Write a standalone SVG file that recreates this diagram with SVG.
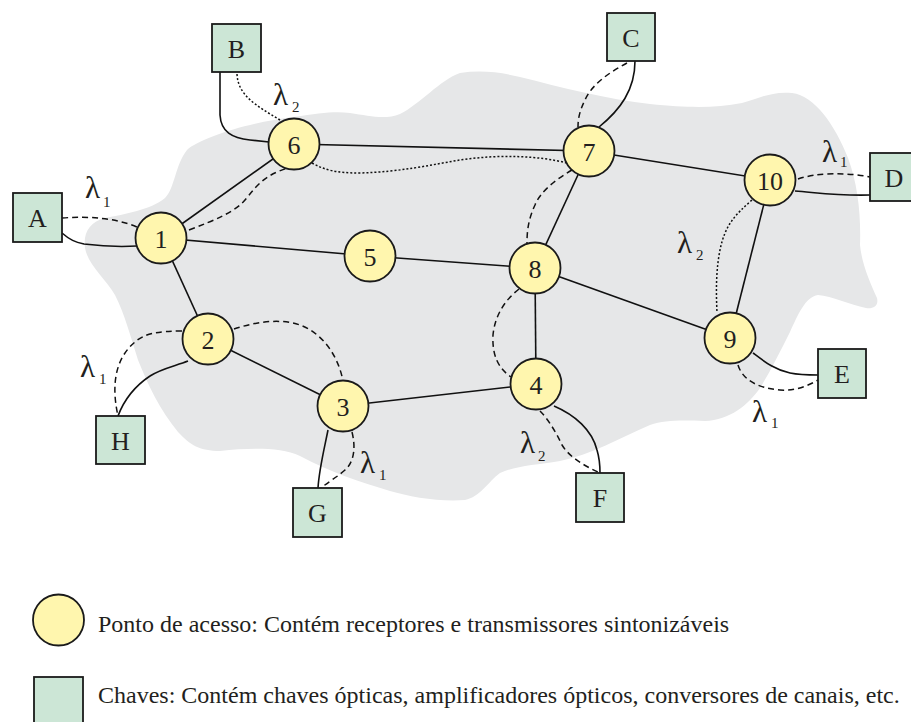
<svg xmlns="http://www.w3.org/2000/svg" width="911" height="722" viewBox="0 0 911 722">
  <style>
    .bg { fill: #ffffff; }
    .cloud { fill: #e6e7e8; stroke: none; }
    .node circle { fill: #fff6ae; stroke: #1a1a1a; stroke-width: 1.8; }
    .sw rect { fill: #cce6d6; stroke: #1a1a1a; stroke-width: 1.8; }
    .txt text, text.legend { fill: #231f20; }
    .lbl { font-size: 26px; text-anchor: middle; }
    .lam { font-size: 31px; }
    .sub { font-size: 15px; }
    .legend { font-size: 24px; }
    .link { fill: none; stroke: #111; stroke-width: 1.6; }
    .dash { fill: none; stroke: #111; stroke-width: 1.5; stroke-dasharray: 6 4; }
    .dot { fill: none; stroke: #111; stroke-width: 1.5; stroke-dasharray: 2 2; }
  </style>

  <rect class="bg" x="0" y="0" width="911" height="722"/>

  <!-- network cloud -->
  <path class="cloud" d="M187,150 C200,138 250,122 294,117 C320,113 335,111 350,113 C370,116 385,120 400,114
    C420,104 440,80 460,73 C480,70 500,72 520,77 C560,87 610,100 650,104 C690,108 715,108 742,103
    C760,98 772,91 792,93 C815,96 835,125 848,158 C858,185 861,215 860,245 C862,265 870,282 877,298
    C879,306 873,309 866,308 C850,305 832,296 818,295 C805,297 798,315 790,332 C780,352 770,372 760,388
    C748,405 730,420 705,421 C680,420 665,420 650,425 C620,438 590,455 560,461 C535,465 515,466 500,473
    C488,482 480,497 465,500 C440,502 410,497 390,491 C360,482 330,472 300,456 C280,447 250,448 220,451
    C200,451 190,445 178,432 C160,410 148,385 138,360 C130,335 125,315 115,295 C105,278 88,265 85,248
    C83,232 90,222 105,218 C125,214 150,210 165,198 C175,188 175,165 187,150 Z"/>

  <!-- connectors -->
  <g id="connectors">
    <!-- straight fibre links -->
    <line class="link" x1="162" y1="238" x2="294" y2="144"/>
    <line class="link" x1="162" y1="238" x2="370" y2="256"/>
    <line class="link" x1="162" y1="238" x2="208" y2="339"/>
    <line class="link" x1="294" y1="144" x2="589" y2="151"/>
    <line class="link" x1="589" y1="151" x2="770" y2="180"/>
    <line class="link" x1="589" y1="151" x2="535" y2="268"/>
    <line class="link" x1="370" y1="256" x2="535" y2="268"/>
    <line class="link" x1="535" y1="268" x2="730" y2="338"/>
    <line class="link" x1="535" y1="268" x2="536" y2="384"/>
    <line class="link" x1="770" y1="180" x2="730" y2="338"/>
    <line class="link" x1="208" y1="339" x2="343" y2="406"/>
    <line class="link" x1="343" y1="406" x2="536" y2="384"/>

    <!-- access links to switches -->
    <path class="link" d="M62,233 C70,240 75,242 84,244 C100,246 120,247 137,246"/>
    <path class="link" d="M220,72 L220,115 C221,132 232,138 250,140 L269,142"/>
    <path class="link" d="M635,61 C635,90 620,110 599,127"/>
    <path class="link" d="M795,191 C820,193 840,196 870,195"/>
    <path class="link" d="M753,353 C765,362 775,370 790,373 C800,375 810,375 818,375"/>
    <path class="link" d="M554,406 C575,415 592,430 597,450 C600,460 600,466 600,473"/>
    <path class="link" d="M328,430 C324,450 319,470 318,488"/>
    <path class="link" d="M188,361 C175,366 160,369 150,376 C135,386 124,400 118,416"/>

    <!-- lightpaths on λ1 (dashed) -->
    <path class="dash" d="M62,218 C90,216 115,218 137,227"/>
    <path class="dash" d="M189,230 C215,220 235,212 245,200 C258,184 265,175 288,168"/>
    <path class="dash" d="M627,63 C610,72 592,84 585,100 C580,110 578,118 578,127"/>
    <path class="dash" d="M572,170 C555,180 540,192 535,205 C528,220 527,232 527,243"/>
    <path class="dash" d="M798,179 C815,173 845,172 870,177"/>
    <path class="dash" d="M738,365 C742,378 755,388 780,390 C795,391 808,386 818,380"/>
    <path class="dash" d="M182,331 C160,331 145,333 135,342 C118,356 110,380 118,416"/>
    <path class="dash" d="M234,329 C255,322 280,318 300,325 C322,333 338,355 343,381"/>
    <path class="dash" d="M352,432 C356,448 354,462 345,470 C336,478 328,482 321,488"/>
    <path class="dash" d="M540,411 C547,418 555,430 562,445 C570,458 585,466 600,473"/>
    <path class="dash" d="M519,289 C505,300 495,315 493,335 C492,355 498,368 511,377"/>

    <!-- lightpaths on λ2 (dotted) -->
    <path class="dot" d="M237,74 C238,95 255,105 280,120"/>
    <path class="dot" d="M312,163 C325,170 335,173 360,173 C400,172 430,165 460,160 C500,154 540,156 567,163"/>
    <path class="dot" d="M752,200 C735,215 725,225 720,250 C716,270 716,290 717,313"/>
  </g>

  <g class="txt" font-family="'Liberation Serif', 'DejaVu Serif', 'Noto Serif', serif">
    <!-- wavelength labels -->
    <g id="wavelengths">
      <text class="lam" x="85" y="198">λ</text><text class="sub" x="103" y="207">1</text>
      <text class="lam" x="273" y="105">λ</text><text class="sub" x="292" y="112">2</text>
      <text class="lam" x="822" y="162">λ</text><text class="sub" x="840" y="167">1</text>
      <text class="lam" x="677" y="253">λ</text><text class="sub" x="696" y="260">2</text>
      <text class="lam" x="752" y="422">λ</text><text class="sub" x="771" y="428">1</text>
      <text class="lam" x="80" y="377">λ</text><text class="sub" x="99" y="384">1</text>
      <text class="lam" x="360" y="473">λ</text><text class="sub" x="379" y="480">1</text>
      <text class="lam" x="520" y="453">λ</text><text class="sub" x="538" y="461">2</text>
    </g>

    <!-- access points -->
    <g id="n1" class="node"><circle cx="161" cy="238" r="25.5"/><text class="lbl" x="161" y="248">1</text></g>
    <g id="n2" class="node"><circle cx="208" cy="339" r="25.5"/><text class="lbl" x="208" y="349">2</text></g>
    <g id="n3" class="node"><circle cx="343" cy="406" r="25.5"/><text class="lbl" x="343" y="416">3</text></g>
    <g id="n4" class="node"><circle cx="536" cy="384" r="25.5"/><text class="lbl" x="536" y="394">4</text></g>
    <g id="n5" class="node"><circle cx="370" cy="256" r="25.5"/><text class="lbl" x="370" y="266">5</text></g>
    <g id="n6" class="node"><circle cx="294" cy="144" r="25.5"/><text class="lbl" x="294" y="154">6</text></g>
    <g id="n7" class="node"><circle cx="589" cy="151" r="25.5"/><text class="lbl" x="589" y="161">7</text></g>
    <g id="n8" class="node"><circle cx="535" cy="268" r="25.5"/><text class="lbl" x="535" y="278">8</text></g>
    <g id="n9" class="node"><circle cx="730" cy="338" r="25.5"/><text class="lbl" x="730" y="348">9</text></g>
    <g id="n10" class="node"><circle cx="770" cy="180" r="25.5"/><text class="lbl" x="770" y="190">10</text></g>

    <!-- optical switches -->
    <g id="sA" class="sw"><rect x="13" y="193" width="49" height="49"/><text class="lbl" x="37.5" y="227">A</text></g>
    <g id="sB" class="sw"><rect x="212" y="24" width="49" height="48"/><text class="lbl" x="236.5" y="58">B</text></g>
    <g id="sC" class="sw"><rect x="607" y="13" width="48" height="48"/><text class="lbl" x="631" y="47">C</text></g>
    <g id="sD" class="sw"><rect x="870" y="153" width="48" height="48"/><text class="lbl" x="894" y="187">D</text></g>
    <g id="sE" class="sw"><rect x="818" y="349" width="48" height="49"/><text class="lbl" x="842" y="383">E</text></g>
    <g id="sF" class="sw"><rect x="576" y="473" width="48" height="49"/><text class="lbl" x="600" y="507">F</text></g>
    <g id="sG" class="sw"><rect x="293" y="488" width="49" height="49"/><text class="lbl" x="317.5" y="522">G</text></g>
    <g id="sH" class="sw"><rect x="96" y="416" width="49" height="48"/><text class="lbl" x="120.5" y="450">H</text></g>

    <!-- legend -->
    <g id="legend-ap" class="node"><circle cx="58.5" cy="620" r="25.5"/></g>
    <text class="legend" x="98" y="632">Ponto de acesso: Contém receptores e transmissores sintonizáveis</text>
    <g id="legend-sw" class="sw"><rect x="34" y="677" width="49" height="49"/></g>
    <text class="legend" x="98" y="703">Chaves: Contém chaves ópticas, amplificadores ópticos, conversores de canais, etc.</text>
  </g>
</svg>
